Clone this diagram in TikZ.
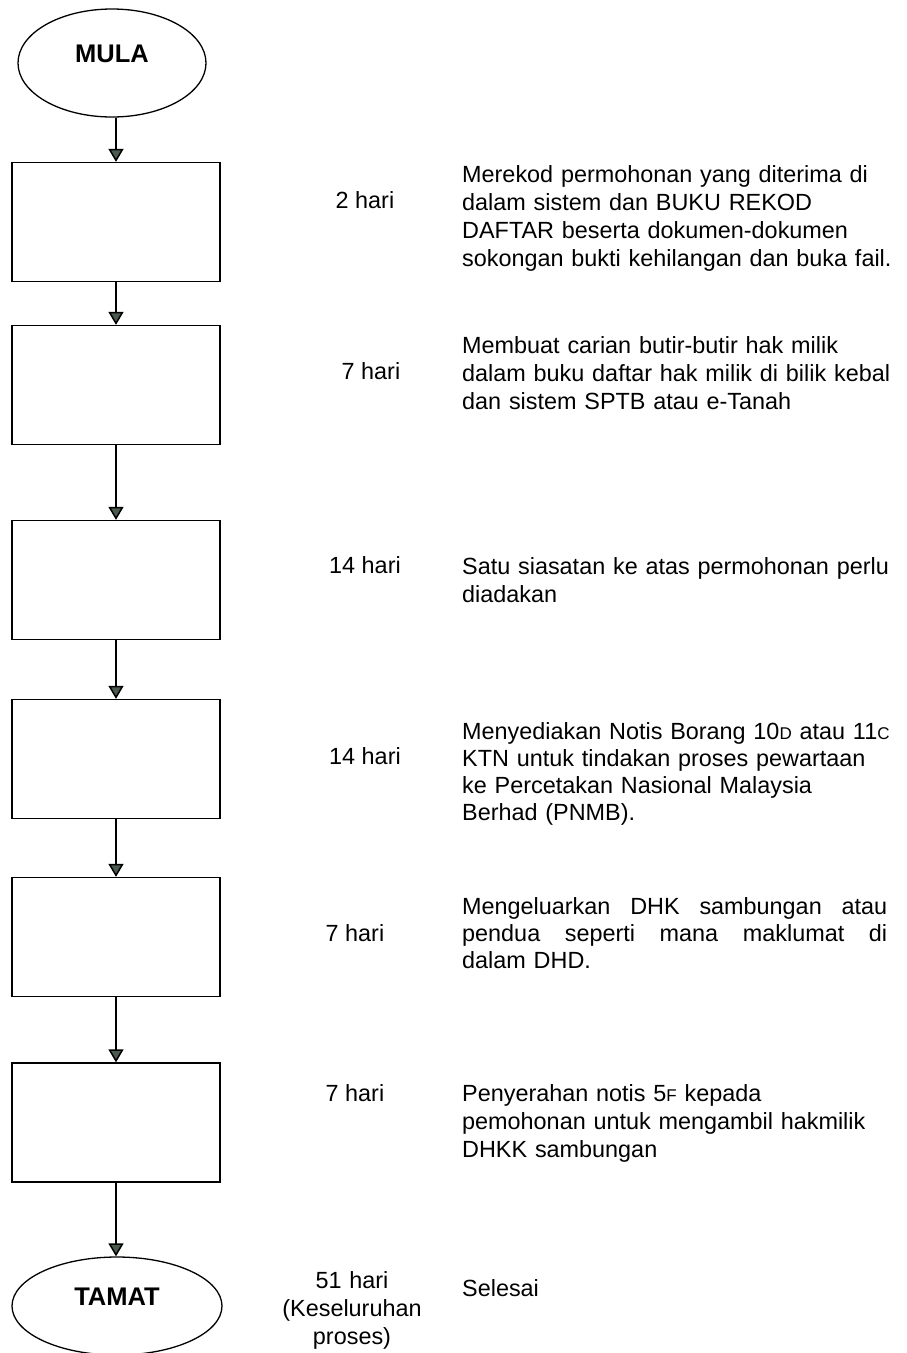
\documentclass[tikz,border=0pt]{standalone}
\usepackage{fontspec}
\setmainfont{Liberation Sans}
\usepackage{tikz}
\usetikzlibrary{shapes.geometric}
\usetikzlibrary{arrows.meta}
\definecolor{headgrey}{HTML}{4B5A4E}
\newcommand{\smcap}[1]{{\fontsize{17}{17}\selectfont #1}}

\begin{document}
\begin{tikzpicture}[x=1pt,y=-1pt]
	 \tikzstyle{terminal}=[ellipse,draw,line width=1.3pt,inner sep=0pt,font=\fontsize{25.5}{28}\selectfont\bfseries,text height=18.3pt,text depth=20pt]
	 \tikzstyle{stepbox}=[rectangle,draw,line width=1.3pt,minimum width=208pt,minimum height=119pt]
	 \tikzstyle{flow}=[draw,line width=1.5pt,-{Triangle[length=13pt,width=15pt,fill=headgrey]}]
	 \tikzstyle{days}=[anchor=base,inner sep=0pt,font=\fontsize{23.4}{28}\selectfont]
	 \tikzstyle{desc}=[anchor=base west,inner sep=0pt,text width=445pt,font=\fontsize{23.4}{28}\selectfont]
	 \useasboundingbox (0,0) rectangle (907,1353);
	 \node[terminal,minimum width=188pt,minimum height=108pt] (mula) at (112,63) {MULA};
	 \node[stepbox] (b1) at (116,222) {};
	 \node[stepbox] (b2) at (116,385) {};
	 \node[stepbox] (b3) at (116,580) {};
	 \node[stepbox] (b4) at (116,759) {};
	 \node[stepbox] (b5) at (116,937) {};
	 \node[stepbox] (b6) at (116,1122.5) {};
	 \node[terminal,minimum width=210pt,minimum height=98pt] (tamat) at (117,1306) {TAMAT};
	 \draw[flow] (b1.north |- mula.south) -- (b1.north);
	 \draw[flow] (b1.south) -- (b2.north);
	 \draw[flow] (b2.south) -- (b3.north);
	 \draw[flow] (b3.south) -- (b4.north);
	 \draw[flow] (b4.south) -- (b5.north);
	 \draw[flow] (b5.south) -- (b6.north);
	 \draw[flow] (b6.south) -- (b6.south |- tamat.north);
	 \node[days] (d1) at (365,208) {2 hari};
	 \node[days] (d2) at (371,379) {7 hari};
	 \node[days] (d3) at (365,573) {14 hari};
	 \node[days] (d4) at (365,764) {14 hari};
	 \node[days] (d5) at (355,941) {7 hari};
	 \node[days] (d6) at (355,1101) {7 hari};
	 \node[days,text width=160pt,align=center] (d7) at (352,1288) {51 hari\\(Keseluruhan\\proses)};
	 \node[desc] (s1) at (462,182) {Merekod permohonan yang diterima di\\dalam sistem dan BUKU REKOD\\DAFTAR beserta dokumen-dokumen\\sokongan bukti kehilangan dan buka fail.};
	 \node[desc] (s2) at (462,353) {Membuat carian butir-butir hak milik\\dalam buku daftar hak milik di bilik kebal\\dan sistem SPTB atau e-Tanah};
	 \node[desc] (s3) at (462,574) {Satu siasatan ke atas permohonan perlu\\diadakan};
	 \node[desc,font=\fontsize{23.4}{27}\selectfont] (s4) at (462,739) {Menyediakan Notis Borang 10\smcap{D} atau 11\smcap{C}\\KTN untuk tindakan proses pewartaan\\ke Percetakan Nasional Malaysia\\Berhad (PNMB).};
	 \node[desc,font=\fontsize{23.4}{27}\selectfont] (s5) at (462,914) {\makebox[425pt][l]{Mengeluarkan\hfill DHK\hfill sambungan\hfill atau}\\\makebox[425pt][l]{pendua\hfill seperti\hfill mana\hfill maklumat\hfill di}\\dalam DHD.};
	 \node[desc] (s6) at (462,1101) {Penyerahan notis 5\smcap{F} kepada\\pemohonan untuk mengambil hakmilik\\DHKK sambungan};
	 \node[desc] (s7) at (462,1296) {Selesai};
\end{tikzpicture}
\end{document}
